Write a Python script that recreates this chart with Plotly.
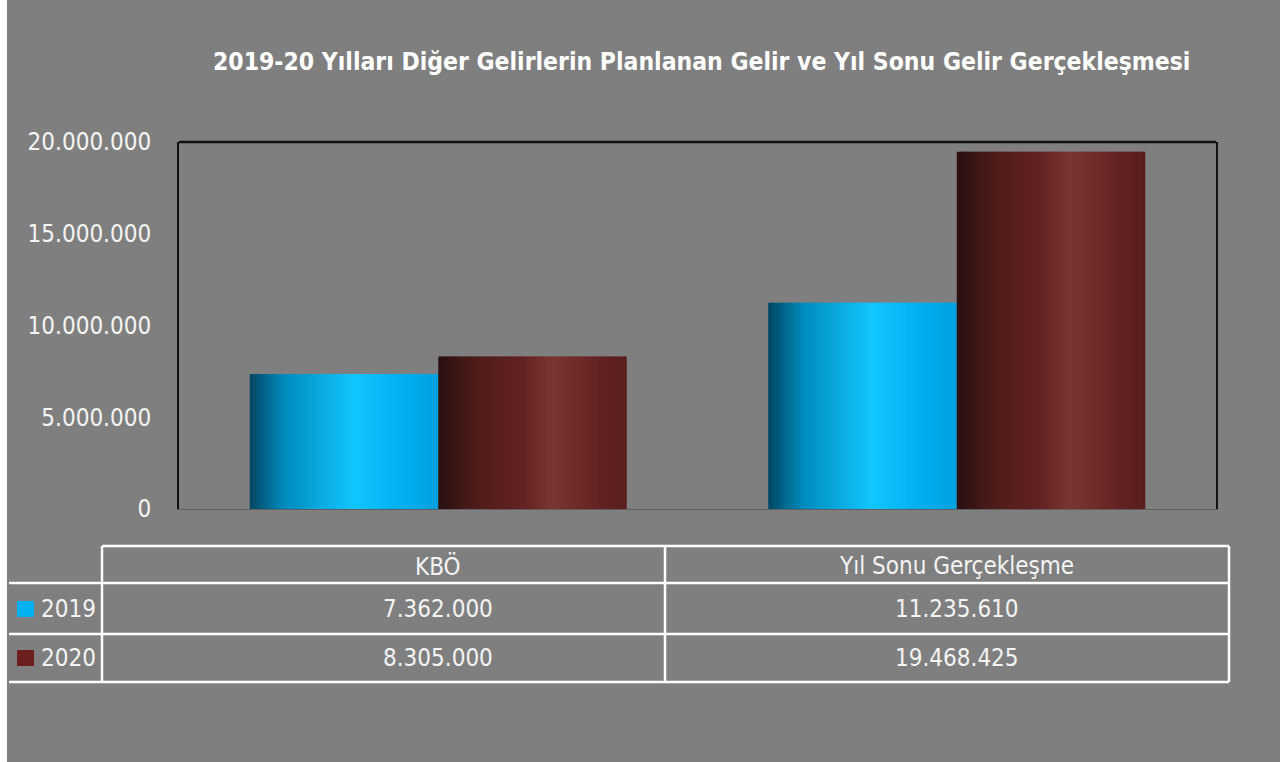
import plotly.graph_objects as go

# ---------------- data ----------------
categories = ["KBÖ", "Yıl Sonu Gerçekleşme"]
series_names = ["2019", "2020"]
values_2019 = [7362000, 11235610]
values_2020 = [8305000, 19468425]
y_ticks = [0, 5000000, 10000000, 15000000, 20000000]
title_text = "2019-20 Yılları Diğer Gelirlerin Planlanan Gelir ve Yıl Sonu Gelir Gerçekleşmesi"

# ---------------- style ----------------
W, H = 1280, 762
L, R, T, B = 179, 64, 142, 253
PW, PH = W - L - R, H - T - B
BG = "#7f7f7f"
FONT = "Liberation Sans Narrow, DejaVu Sans Condensed, Arial Narrow, Open Sans, sans-serif"
TXT = "#f4f4f4"

cyan_stops = [(0.0, (0, 70, 98)), (0.18, (0, 138, 188)), (0.55, (18, 198, 255)), (0.8, (0, 176, 240)), (1.0, (0, 160, 222))]
red_stops = [(0.0, (40, 16, 16)), (0.2, (78, 28, 26)), (0.45, (100, 34, 34)), (0.6, (122, 54, 52)), (0.85, (100, 34, 34)), (1.0, (88, 30, 30))]
legend_colors = ["#00b0f0", "#6b1f1f"]


def grad(stops, t):
    for (t0, c0), (t1, c1) in zip(stops, stops[1:]):
        if t0 <= t <= t1:
            f = (t - t0) / (t1 - t0) if t1 > t0 else 0
            c = [round(a + (b - a) * f) for a, b in zip(c0, c1)]
            return "rgb(%d,%d,%d)" % tuple(c)
    return "rgb(%d,%d,%d)" % stops[-1][1]


def px_x(x):
    return (x - L) / PW


def px_y(y):
    return (H - B - y) / PH


fig = go.Figure()

bar_w = 0.3636
N = 60
sw = bar_w / N
for s_idx, (name, vals, stops) in enumerate(
    [(series_names[0], values_2019, cyan_stops), (series_names[1], values_2020, red_stops)]
):
    base = -bar_w if s_idx == 0 else 0.0
    for i in range(N):
        t = (i + 0.5) / N
        fig.add_trace(
            go.Bar(
                x=categories,
                y=vals,
                name=name,
                width=sw * 1.6 if i < N - 1 else sw,
                offset=base + i * sw,
                marker=dict(color=grad(stops, t), line=dict(width=0)),
                showlegend=False,
                hoverinfo="skip" if i else "x+y+name",
            )
        )

fig.update_layout(
    width=W,
    height=H,
    margin=dict(l=L, r=R, t=T, b=B),
    paper_bgcolor=BG,
    plot_bgcolor=BG,
    barmode="overlay",
    separators=",.",
    showlegend=False,
    font=dict(family=FONT, color=TXT, size=24),
    xaxis=dict(
        showticklabels=False,
        showgrid=False,
        zeroline=False,
        showline=True,
        linecolor="#5e5e5e",
        linewidth=1,
        ticks="",
    ),
    yaxis=dict(
        range=[0, 20000000],
        tickvals=y_ticks,
        tickformat=",d",
        showgrid=False,
        zeroline=False,
        showline=True,
        mirror=True,
        linecolor="#111111",
        linewidth=2,
        ticks="",
        ticklabelstandoff=21,
        tickfont=dict(family=FONT, size=24, color=TXT),
    ),
)

shapes = []
# white strip on the left edge
shapes.append(dict(type="rect", xref="paper", yref="paper", x0=px_x(0), x1=px_x(7), y0=px_y(H), y1=px_y(0),
                   fillcolor="white", line=dict(width=0), layer="below"))
# top black border of the plot area
shapes.append(dict(type="line", xref="paper", yref="paper", x0=0, x1=1, y0=1, y1=1,
                   line=dict(color="#111111", width=2.5)))

# data table lines
col_x = [9, 102, 665, 1229]
row_y = [546, 583, 634, 682]
lw = dict(color="white", width=2.5)
shapes.append(dict(type="line", xref="paper", yref="paper", x0=px_x(col_x[1]), x1=px_x(col_x[3]),
                   y0=px_y(row_y[0]), y1=px_y(row_y[0]), line=lw))
for ry in row_y[1:]:
    shapes.append(dict(type="line", xref="paper", yref="paper", x0=px_x(col_x[0]), x1=px_x(col_x[3]),
                       y0=px_y(ry), y1=px_y(ry), line=lw))
for cx in col_x[1:]:
    shapes.append(dict(type="line", xref="paper", yref="paper", x0=px_x(cx), x1=px_x(cx),
                       y0=px_y(row_y[0]), y1=px_y(row_y[3]), line=lw))

annotations = [
    dict(text="<b>%s</b>" % title_text, xref="paper", yref="paper", x=px_x(701), y=px_y(62),
         showarrow=False, xanchor="center", yanchor="middle",
         font=dict(family=FONT, size=24.5, color="white")),
]

# header row
for cat in categories:
    annotations.append(dict(text=cat, xref="x", yref="paper", x=cat, y=px_y(566), showarrow=False,
                            xanchor="center", yanchor="middle", font=dict(family=FONT, size=24, color=TXT)))


def fmt(v):
    return "{:,}".format(v).replace(",", ".")


row_centers = [609, 658]
for r, (name, vals) in enumerate([(series_names[0], values_2019), (series_names[1], values_2020)]):
    yc = row_centers[r]
    shapes.append(dict(type="rect", xref="paper", yref="paper", x0=px_x(17), x1=px_x(34),
                       y0=px_y(yc + 8), y1=px_y(yc - 8), fillcolor=legend_colors[r], line=dict(width=0)))
    annotations.append(dict(text=name, xref="paper", yref="paper", x=px_x(39), y=px_y(yc), showarrow=False,
                            xanchor="left", yanchor="middle", font=dict(family=FONT, size=24, color=TXT)))
    for cat, v in zip(categories, vals):
        annotations.append(dict(text=fmt(v), xref="x", yref="paper", x=cat, y=px_y(yc), showarrow=False,
                                xanchor="center", yanchor="middle", font=dict(family=FONT, size=24, color=TXT)))

fig.update_layout(shapes=shapes, annotations=annotations)
fig.write_html("out.html", config={"displayModeBar": False},
               post_script="document.body.style.margin='0';document.body.style.overflow='hidden';")
